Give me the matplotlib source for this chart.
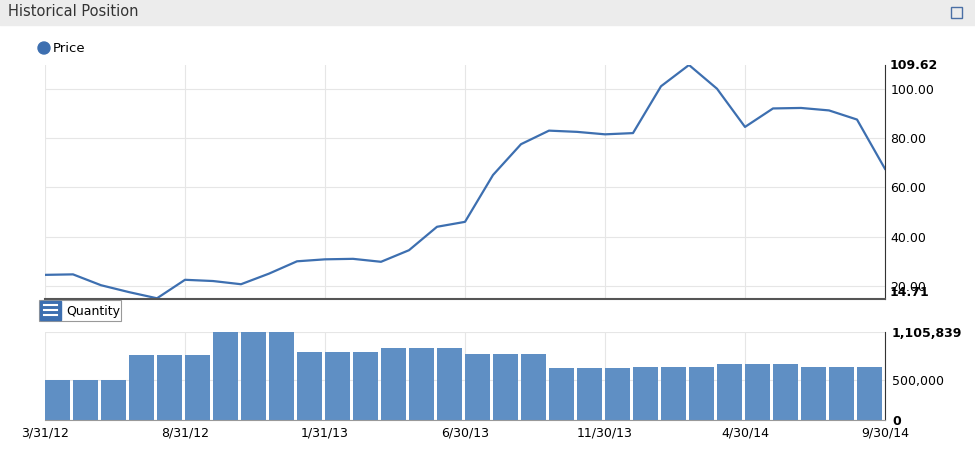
import matplotlib
matplotlib.use("Agg")
import matplotlib.pyplot as plt
from matplotlib.patches import Rectangle, Ellipse

months = list(range(31))
tick_pos = [0, 5, 10, 15, 20, 25, 30]
tick_labels = ["3/31/12", "8/31/12", "1/31/13", "6/30/13", "11/30/13", "4/30/14", "9/30/14"]
price = [24.5, 24.7, 20.3, 17.5, 15.0, 22.5, 22.0, 20.7, 25.0, 30.0, 30.8, 31.0, 29.8, 34.5, 44.0, 46.0,
         65.0, 77.5, 83.0, 82.5, 81.5, 82.0, 101.0, 109.62, 100.0, 84.5, 92.0, 92.2, 91.2, 87.5, 67.5]
quantity = [505000]*3 + [817000]*3 + [1105839]*3 + [855000]*3 + [905000]*3 + [830000]*3 + \
           [653000]*3 + [666000]*3 + [704000]*3 + [666000]*3 + [12000]

W, H = 975, 449
fig = plt.figure(figsize=(9.75, 4.49), dpi=100)
fig.patches.append(Rectangle((0, 1 - 25/H), 1, 25/H, transform=fig.transFigure, color="#ececec", zorder=0))
fig.text(8/W, 1 - 12/H, "Historical Position", fontsize=10.5, va="center", color="#333333")
fig.patches.append(Rectangle((951/W, 1 - 18/H), 11/W, 11/H, transform=fig.transFigure,
                             fill=False, ec="#4a6fa5", lw=1))

def ax_rect(x0, y0, x1, y1):
    return [x0/W, 1 - y1/H, (x1 - x0)/W, (y1 - y0)/H]

col = "#3d6fb0"
ax1 = fig.add_axes(ax_rect(45, 65, 885, 299))
ax1.plot(months, price, color=col, lw=1.6)
ax1.set_xlim(0, 30)
ax1.set_ylim(14.71, 109.62)
ax1.yaxis.tick_right()
ax1.set_yticks([20, 40, 60, 80, 100])
ax1.set_yticklabels(["20.00", "40.00", "60.00", "80.00", "100.00"], fontsize=9)
ax1.set_xticks(tick_pos)
ax1.set_xticklabels([])
ax1.tick_params(length=0, pad=4)
ax1.grid(True, color="#e6e6e6", lw=0.8)
for s in ["top", "left"]:
    ax1.spines[s].set_visible(False)
ax1.spines["right"].set_color("#333333")
ax1.spines["bottom"].set_color("#555555")
ax1.spines["bottom"].set_linewidth(1.5)
ax1.text(1.005, 1.0, "109.62", transform=ax1.transAxes, fontsize=9, fontweight="bold", va="center")
ax1.text(1.005, 0.0, "14.71", transform=ax1.transAxes, fontsize=9, fontweight="bold", va="bottom")
fig.patches.append(Ellipse((44/W, 1 - 48/H), 12/W, 12/H, transform=fig.transFigure, color=col))
fig.text(53/W, 1 - 48/H, "Price", fontsize=9.5, va="center")

ax2 = fig.add_axes(ax_rect(45, 332, 885, 420))
ax2.bar(months[:-1], quantity[:-1], width=0.9, align="edge", color="#5f8fc4", lw=0)
ax2.bar([30], [quantity[-1]], width=0.3, align="edge", color="#5f8fc4")
ax2.set_xlim(0, 30)
ax2.set_ylim(0, 1105839)
ax2.yaxis.tick_right()
ax2.set_yticks([0, 500000, 1105839])
ax2.set_yticklabels(["0", "500,000", "1,105,839"], fontsize=9)
for t in ax2.get_yticklabels():
    if t.get_text() != "500,000":
        t.set_fontweight("bold")
ax2.set_xticks(tick_pos)
ax2.set_xticklabels(tick_labels, fontsize=9)
ax2.tick_params(length=0, pad=5)
ax2.grid(True, color="#e6e6e6", lw=0.8)
ax2.set_axisbelow(True)
for s in ["top", "left"]:
    ax2.spines[s].set_visible(False)
ax2.spines["right"].set_color("#333333")
ax2.spines["bottom"].set_color("#999999")

fig.patches.append(Rectangle((39/W, 1 - 321/H), 82/W, 21/H, transform=fig.transFigure,
                             fc="white", ec="#999999", lw=0.8))
fig.patches.append(Rectangle((40/W, 1 - 320/H), 21/W, 19/H, transform=fig.transFigure, color="#3d6fb0"))
for dy in (305, 310, 315):
    fig.lines.append(plt.Line2D([44/W, 57/W], [1 - dy/H]*2, transform=fig.transFigure, color="white", lw=1.5))
fig.text(66/W, 1 - 311/H, "Quantity", fontsize=9, va="center")

fig.savefig("out.png", dpi=100)
